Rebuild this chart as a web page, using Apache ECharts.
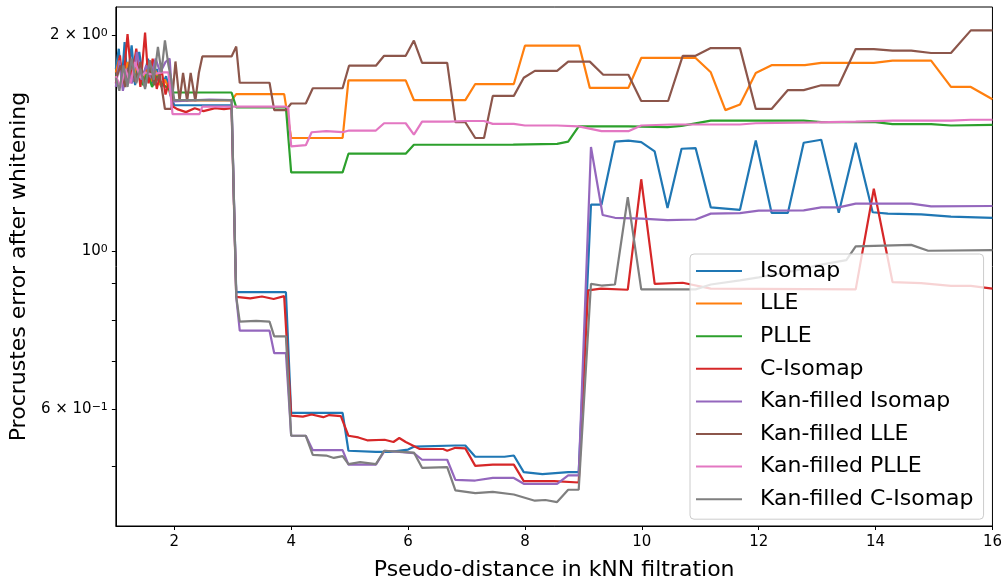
<!DOCTYPE html>
<html>
<head>
<meta charset="utf-8">
<script src="https://cdn.jsdelivr.net/npm/echarts@6/dist/echarts.min.js"></script>
<style>
  html, body { margin: 0; padding: 0; background: #fff; }
  #chart { width: 1005px; height: 586px; }
</style>
</head>
<body>
<div id="chart"></div>
<script>
// x ticks and y ticks (log axis)
const xTicks = [2, 4, 6, 8, 10, 12, 14, 16];
const yLabelTicks = [0.6, 1, 2];
const yMinorTicks = [0.5, 0.6, 0.7, 0.8, 0.9, 1, 2];
const yRange = [0.412, 2.193];

const seriesNames = ['Isomap', 'LLE', 'PLLE', 'C-Isomap', 'Kan-filled Isomap', 'Kan-filled LLE', 'Kan-filled PLLE', 'Kan-filled C-Isomap'];
const colors = ['#1f77b4', '#ff7f0e', '#2ca02c', '#d62728', '#9467bd', '#8c564b', '#e377c2', '#7f7f7f'];

// [pseudo-distance, procrustes error]
const isomap = [
  [1.0, 1.796], [1.05, 1.917], [1.1, 1.715], [1.15, 1.958], [1.2, 1.735], [1.27, 1.938], [1.33, 1.705], [1.4, 1.898], [1.47, 1.735], [1.55, 1.857],
  [1.62, 1.715], [1.7, 1.796], [1.78, 1.695], [1.86, 1.755], [1.93, 1.654], [2.0, 1.598],
  [2.98, 1.598], [3.06, 0.875], [3.91, 0.875], [4.0, 0.593], [4.88, 0.593], [4.98, 0.525], [5.45, 0.523], [5.7, 0.523], [6.0, 0.527],
  [6.1, 0.532], [6.81, 0.534], [6.98, 0.534], [7.15, 0.515], [7.65, 0.515], [7.81, 0.517], [7.98, 0.490], [8.3, 0.487], [8.74, 0.490], [8.92, 0.490],
  [9.13, 1.160], [9.31, 1.160], [9.54, 1.421], [9.77, 1.426], [9.99, 1.419], [10.22, 1.377], [10.44, 1.148], [10.68, 1.389], [10.92, 1.392],
  [11.18, 1.150], [11.68, 1.141], [11.95, 1.426], [12.22, 1.130], [12.5, 1.130], [12.77, 1.416], [13.07, 1.430], [13.37, 1.130], [13.66, 1.416],
  [13.95, 1.132], [14.21, 1.127], [14.78, 1.124], [15.29, 1.116], [16.0, 1.112]
];
const lle = [
  [1.0, 1.776], [1.06, 1.857], [1.13, 1.735], [1.2, 1.837], [1.28, 1.725], [1.36, 1.817], [1.44, 1.715], [1.52, 1.796], [1.6, 1.725], [1.68, 1.786],
  [1.76, 1.705], [1.84, 1.735], [1.92, 1.674], [1.97, 1.623],
  [2.98, 1.623], [3.06, 1.656], [3.88, 1.656], [4.0, 1.438], [4.88, 1.438], [4.98, 1.731], [5.96, 1.731], [6.1, 1.625], [6.98, 1.625],
  [7.15, 1.711], [7.81, 1.711], [8.0, 1.936], [8.93, 1.936], [9.11, 1.690], [9.77, 1.690], [9.99, 1.861], [10.92, 1.861], [11.18, 1.777],
  [11.43, 1.573], [11.68, 1.602], [11.95, 1.773], [12.22, 1.818], [12.79, 1.818], [13.07, 1.832], [13.97, 1.832], [14.29, 1.845],
  [14.95, 1.845], [15.29, 1.695], [15.63, 1.695], [16.0, 1.629]
];
const plle = [
  [1.0, 1.745], [1.07, 1.827], [1.14, 1.715], [1.22, 1.796], [1.3, 1.725], [1.38, 1.786], [1.46, 1.705], [1.54, 1.776], [1.62, 1.695], [1.7, 1.755],
  [1.78, 1.715], [1.86, 1.695], [1.97, 1.665],
  [2.98, 1.665], [3.06, 1.587], [3.91, 1.587], [4.0, 1.287], [4.88, 1.287], [4.98, 1.367], [5.96, 1.367], [6.1, 1.407], [7.8, 1.408],
  [8.55, 1.411], [8.74, 1.421], [8.92, 1.493], [9.77, 1.493], [10.44, 1.489], [10.68, 1.495], [11.18, 1.521], [12.77, 1.521],
  [13.07, 1.513], [14.0, 1.513], [14.29, 1.504], [14.95, 1.504], [15.29, 1.497], [16.0, 1.500]
];
const cIsomap = [
  [1.0, 1.715], [1.07, 1.877], [1.12, 1.695], [1.2, 2.010], [1.27, 1.735], [1.35, 1.918], [1.42, 1.695], [1.5, 2.020], [1.56, 1.715], [1.63, 1.857],
  [1.7, 1.684], [1.78, 1.796], [1.85, 1.654], [1.92, 1.735], [1.97, 1.593],
  [2.05, 1.578], [2.2, 1.563], [2.35, 1.583], [2.5, 1.568], [2.7, 1.583], [2.85, 1.578], [2.98, 1.583],
  [3.06, 0.862], [3.3, 0.858], [3.5, 0.863], [3.7, 0.856], [3.88, 0.864], [3.91, 0.861],
  [4.0, 0.588], [4.2, 0.586], [4.35, 0.590], [4.55, 0.585], [4.65, 0.589], [4.85, 0.587],
  [4.98, 0.551], [5.15, 0.548], [5.3, 0.543], [5.6, 0.544], [5.75, 0.540], [5.85, 0.547], [5.96, 0.540],
  [6.2, 0.528], [6.6, 0.528], [6.67, 0.525], [6.81, 0.530], [6.98, 0.529], [7.15, 0.500], [7.45, 0.502], [7.81, 0.502],
  [7.98, 0.476], [8.5, 0.476], [8.92, 0.474], [9.08, 0.880], [9.3, 0.885], [9.76, 0.882], [9.99, 1.259], [10.22, 0.899],
  [10.7, 0.902], [11.18, 0.885], [13.66, 0.883], [13.97, 1.221], [14.29, 0.904], [14.78, 0.901], [15.29, 0.893], [15.63, 0.893], [16.0, 0.885]
];
const kanIsomap = [
  [1.0, 1.695], [1.06, 1.847], [1.12, 1.674], [1.2, 1.796], [1.28, 1.715], [1.36, 1.898], [1.44, 1.735], [1.52, 1.817], [1.6, 1.745], [1.68, 1.857],
  [1.76, 1.776], [1.85, 1.837], [1.92, 1.857], [1.97, 1.618],
  [2.3, 1.623], [2.6, 1.628], [2.98, 1.625], [3.06, 0.862], [3.12, 0.773], [3.63, 0.773], [3.71, 0.719], [3.91, 0.719],
  [4.0, 0.551], [4.25, 0.551], [4.37, 0.526], [4.88, 0.526], [4.98, 0.502], [5.45, 0.502], [5.6, 0.525], [6.1, 0.521],
  [6.24, 0.510], [6.67, 0.510], [6.81, 0.478], [7.15, 0.477], [7.45, 0.481], [7.81, 0.481], [7.98, 0.472], [8.55, 0.472],
  [8.74, 0.485], [8.92, 0.485], [9.13, 1.397], [9.33, 1.122], [9.54, 1.112], [10.0, 1.109], [10.44, 1.104], [10.92, 1.106],
  [11.18, 1.127], [11.68, 1.129], [12.0, 1.138], [12.77, 1.139], [13.07, 1.150], [13.37, 1.150], [13.66, 1.164], [14.61, 1.164],
  [14.95, 1.154], [16.0, 1.155]
];
const kanLle = [
  [1.0, 1.735], [1.08, 1.817], [1.16, 1.695], [1.25, 1.857], [1.33, 1.725], [1.42, 1.837], [1.5, 1.695], [1.58, 1.796], [1.66, 1.705], [1.75, 1.766],
  [1.84, 1.579], [1.95, 1.579], [2.02, 1.840], [2.09, 1.620], [2.15, 1.773], [2.22, 1.620], [2.28, 1.773], [2.36, 1.620], [2.42, 1.773],
  [2.48, 1.870], [2.98, 1.870], [3.06, 1.931], [3.12, 1.718], [3.63, 1.718], [3.71, 1.573], [3.91, 1.573], [4.0, 1.607], [4.25, 1.607],
  [4.37, 1.688], [4.88, 1.688], [4.99, 1.815], [5.45, 1.815], [5.59, 1.874], [5.96, 1.874], [6.1, 1.968], [6.24, 1.832], [6.67, 1.832],
  [6.81, 1.513], [6.98, 1.513], [7.15, 1.438], [7.3, 1.438], [7.45, 1.647], [7.81, 1.647], [7.98, 1.746], [8.17, 1.785], [8.55, 1.785],
  [8.74, 1.839], [9.11, 1.839], [9.34, 1.763], [9.77, 1.763], [9.99, 1.620], [10.45, 1.620], [10.7, 1.874], [10.92, 1.874],
  [11.18, 1.921], [11.68, 1.921], [11.95, 1.579], [12.22, 1.579], [12.5, 1.678], [12.77, 1.678], [13.07, 1.704], [13.37, 1.704],
  [13.66, 1.915], [13.97, 1.915], [14.29, 1.905], [14.61, 1.905], [14.95, 1.891], [15.29, 1.891], [15.63, 2.034], [16.0, 2.034]
];
const kanPlle = [
  [1.0, 1.755], [1.08, 1.695], [1.16, 1.796], [1.25, 1.715], [1.33, 1.837], [1.42, 1.745], [1.5, 1.776], [1.6, 1.766], [1.7, 1.771], [1.8, 1.776],
  [1.9, 1.776], [1.97, 1.553], [2.43, 1.553], [2.48, 1.591], [3.91, 1.591], [3.95, 1.583], [4.0, 1.400], [4.25, 1.405], [4.35, 1.465],
  [4.6, 1.470], [4.88, 1.465], [4.99, 1.473], [5.45, 1.473], [5.59, 1.508], [5.96, 1.508], [6.1, 1.454], [6.24, 1.516], [6.7, 1.516],
  [7.0, 1.519], [7.3, 1.519], [7.45, 1.505], [7.81, 1.505], [8.0, 1.497], [8.55, 1.497], [8.92, 1.493], [9.31, 1.470], [9.77, 1.470],
  [9.99, 1.497], [10.5, 1.502], [11.68, 1.502], [11.95, 1.508], [13.0, 1.512], [13.66, 1.516], [14.29, 1.521], [15.29, 1.521],
  [15.63, 1.525], [16.0, 1.525]
];
const kanCIsomap = [
  [1.0, 1.745], [1.06, 1.674], [1.13, 1.817], [1.2, 1.695], [1.27, 1.857], [1.35, 1.715], [1.42, 1.796], [1.5, 1.684], [1.58, 1.847], [1.65, 1.735],
  [1.72, 1.928], [1.78, 1.776], [1.84, 1.969], [1.9, 1.817], [1.95, 1.735], [2.0, 1.625],
  [2.98, 1.625], [3.06, 0.862], [3.12, 0.796], [3.4, 0.798], [3.63, 0.796], [3.71, 0.759], [3.91, 0.759], [4.0, 0.551], [4.25, 0.551],
  [4.37, 0.518], [4.6, 0.517], [4.73, 0.513], [4.88, 0.516], [4.98, 0.503], [5.18, 0.506], [5.45, 0.503], [5.59, 0.525], [6.1, 0.522],
  [6.24, 0.497], [6.67, 0.498], [6.81, 0.462], [7.15, 0.458], [7.45, 0.460], [7.81, 0.456], [8.17, 0.447], [8.35, 0.448],
  [8.55, 0.445], [8.74, 0.463], [8.92, 0.463], [9.13, 0.899], [9.31, 0.894], [9.54, 0.897], [9.76, 1.188], [9.99, 0.883],
  [10.92, 0.883], [11.18, 0.897], [11.68, 0.909], [12.0, 0.918], [12.5, 0.933], [13.0, 0.954], [13.5, 0.970], [13.66, 1.014],
  [14.61, 1.019], [14.9, 1.000], [16.0, 1.002]
];

const seriesData = [isomap, lle, plle, cIsomap, kanIsomap, kanLle, kanPlle, kanCIsomap];
const font = 'DejaVu Sans';

// matplotlib-like log tick labels with a raised exponent
function yLabel(v) {
  if (Math.abs(v - 2) < 1e-6) return '{b|2 × 10}{s|0}';
  if (Math.abs(v - 1) < 1e-6) return '{b|10}{s|0}';
  if (Math.abs(v - 0.6) < 1e-6) return '{b|6 × 10}{s|−1}';
  return '';
}

const chart = echarts.init(document.getElementById('chart'));
const option = {
  animation: false,
  backgroundColor: '#fff',
  grid: { left: 115, right: 10, top: 7, bottom: 54, show: true, borderColor: '#000', borderWidth: 1 },
  xAxis: {
    type: 'value', min: 1, max: 16,
    name: 'Pseudo-distance in kNN filtration', nameLocation: 'middle', nameGap: 33,
    nameTextStyle: { fontSize: 22, color: '#000', fontFamily: font },
    axisLine: { lineStyle: { color: '#000' } },
    axisTick: { customValues: xTicks, length: 4, lineStyle: { color: '#000' } },
    axisLabel: { customValues: xTicks, fontSize: 15, color: '#000', fontFamily: font, margin: 9 },
    splitLine: { show: false }
  },
  yAxis: {
    type: 'log', logBase: 10, min: yRange[0], max: yRange[1],
    name: 'Procrustes error after whitening', nameLocation: 'middle', nameGap: 77,
    nameTextStyle: { fontSize: 22, color: '#000', fontFamily: font },
    axisLine: { lineStyle: { color: '#000' } },
    axisTick: { customValues: yMinorTicks, length: 4, lineStyle: { color: '#000' } },
    axisLabel: {
      customValues: yLabelTicks, color: '#000', fontFamily: font, margin: 8, formatter: yLabel,
      rich: {
        b: { fontSize: 15, color: '#000', fontFamily: font },
        s: { fontSize: 11, color: '#000', fontFamily: font, verticalAlign: 'top' }
      }
    },
    splitLine: { show: false },
    minorTick: { show: false }
  },
  legend: {
    orient: 'vertical', left: 690, top: 254,
    icon: 'rect', itemWidth: 46, itemHeight: 2, itemGap: 8.6,
    padding: [5, 10, 8, 6],
    backgroundColor: 'rgba(255,255,255,0.8)', borderColor: '#cccccc', borderWidth: 1, borderRadius: 4,
    textStyle: { fontSize: 22, color: '#000', fontFamily: font, lineHeight: 24, padding: [0, 0, 0, 13] },
    data: seriesNames
  },
  series: seriesNames.map((name, i) => ({
    name: name,
    type: 'line',
    data: seriesData[i],
    symbol: 'none',
    color: colors[i],
    lineStyle: { width: 2.2, color: colors[i] },
    emphasis: { disabled: true }
  }))
};
chart.setOption(option);
</script>
</body>
</html>
